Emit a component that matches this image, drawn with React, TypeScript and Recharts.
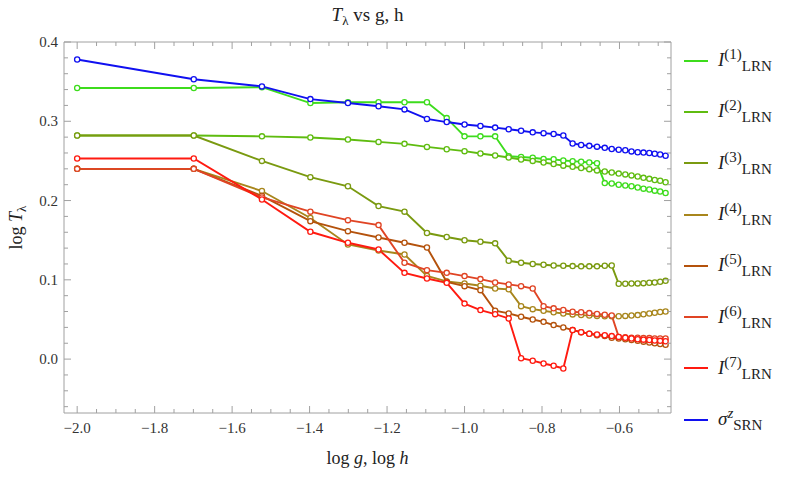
import { LineChart, Line, XAxis, YAxis } from 'recharts';

// log10 of g (= h) sample points
const xs = [-2, -1.699, -1.523, -1.398, -1.301, -1.222, -1.155, -1.097, -1.046, -1, -0.959, -0.921, -0.886, -0.854, -0.824, -0.796, -0.77, -0.745, -0.721, -0.699, -0.678, -0.658, -0.638, -0.62, -0.602, -0.585, -0.569, -0.553, -0.538, -0.523, -0.509, -0.495, -0.481];

const i1 = [0.342, 0.342, 0.343, 0.323, 0.324, 0.324, 0.324, 0.324, 0.304, 0.281, 0.281, 0.281, 0.256, 0.255, 0.254, 0.2525, 0.252, 0.2505, 0.2497, 0.249, 0.248, 0.247, 0.222, 0.2215, 0.22, 0.219, 0.218, 0.2165, 0.215, 0.214, 0.2125, 0.2115, 0.2095];
const i2 = [0.282, 0.282, 0.281, 0.2796, 0.277, 0.274, 0.2715, 0.2677, 0.2648, 0.2623, 0.2594, 0.2569, 0.2543, 0.2518, 0.25, 0.248, 0.246, 0.244, 0.2425, 0.241, 0.2396, 0.238, 0.2367, 0.2354, 0.234, 0.233, 0.2317, 0.2304, 0.2286, 0.2274, 0.226, 0.225, 0.223];
const i3 = [0.282, 0.282, 0.25, 0.2295, 0.218, 0.193, 0.186, 0.159, 0.154, 0.15, 0.148, 0.146, 0.124, 0.1215, 0.12, 0.119, 0.118, 0.1177, 0.1173, 0.117, 0.117, 0.117, 0.1177, 0.118, 0.095, 0.095, 0.0954, 0.0955, 0.0958, 0.0963, 0.0967, 0.0975, 0.0987];
const i4 = [0.24, 0.24, 0.212, 0.178, 0.1446, 0.137, 0.132, 0.105, 0.098, 0.0954, 0.0925, 0.089, 0.088, 0.0668, 0.063, 0.061, 0.059, 0.0576, 0.0564, 0.0555, 0.055, 0.0545, 0.054, 0.054, 0.054, 0.0545, 0.055, 0.0555, 0.0565, 0.0575, 0.0585, 0.0595, 0.06];
const i5 = [0.24, 0.24, 0.206, 0.174, 0.1614, 0.1534, 0.1467, 0.1408, 0.0975, 0.092, 0.087, 0.061, 0.0576, 0.0534, 0.05, 0.047, 0.0429, 0.04, 0.0366, 0.034, 0.032, 0.03, 0.029, 0.027, 0.026, 0.025, 0.024, 0.023, 0.022, 0.021, 0.02, 0.019, 0.018];
const i6 = [0.24, 0.24, 0.204, 0.186, 0.1753, 0.169, 0.1215, 0.1122, 0.1088, 0.1047, 0.1009, 0.0967, 0.0942, 0.092, 0.089, 0.0668, 0.064, 0.062, 0.0598, 0.059, 0.058, 0.057, 0.056, 0.055, 0.028, 0.0275, 0.027, 0.027, 0.0265, 0.0265, 0.026, 0.026, 0.026];
const i7 = [0.253, 0.253, 0.2014, 0.1606, 0.1467, 0.1383, 0.1088, 0.1017, 0.0962, 0.07, 0.0618, 0.0567, 0.0513, 0.001, -0.002, -0.0055, -0.0084, -0.0118, 0.0366, 0.034, 0.032, 0.031, 0.03, 0.029, 0.028, 0.027, 0.026, 0.025, 0.0245, 0.024, 0.0235, 0.023, 0.0225];
const srn = [0.378, 0.353, 0.344, 0.328, 0.323, 0.319, 0.315, 0.303, 0.299, 0.296, 0.294, 0.292, 0.29, 0.288, 0.286, 0.285, 0.284, 0.282, 0.272, 0.27, 0.269, 0.268, 0.2665, 0.265, 0.264, 0.2635, 0.262, 0.261, 0.2605, 0.26, 0.259, 0.258, 0.2565];

const xMajor = [-2.0, -1.8, -1.6, -1.4, -1.2, -1.0, -0.8, -0.6];
const yMajor = [0.0, 0.1, 0.2, 0.3, 0.4];

const series = [
  { key: 'i1', sup: '(1)', sub: 'LRN', color: '#3ddc1c' },
  { key: 'i2', sup: '(2)', sub: 'LRN', color: '#5fbc10' },
  { key: 'i3', sup: '(3)', sub: 'LRN', color: '#7a9a10' },
  { key: 'i4', sup: '(4)', sub: 'LRN', color: '#a8861c' },
  { key: 'i5', sup: '(5)', sub: 'LRN', color: '#b4520c' },
  { key: 'i6', sup: '(6)', sub: 'LRN', color: '#e04424' },
  { key: 'i7', sup: '(7)', sub: 'LRN', color: '#ff1a10' },
  { key: 'srn', sup: 'z', sub: 'SRN', color: '#1010f0' },
];

const data = xs.map((x, i) => ({
  x,
  i1: i1[i], i2: i2[i], i3: i3[i], i4: i4[i], i5: i5[i], i6: i6[i], i7: i7[i], srn: srn[i],
}));

const W = 789;
const H = 478;
const PLOT_TOP = 42;
const PLOT_BOTTOM = 413;
const PLOT_LEFT = 64;
const PLOT_RIGHT = 671;
// axis sizes are folded into these margins so the plot box lands on the frame above
const M = { top: PLOT_TOP - 1, right: W - PLOT_RIGHT - 1, bottom: H - PLOT_BOTTOM - 30, left: PLOT_LEFT - 40 };
const X_DOMAIN = [-2.034, -0.467];
const Y_DOMAIN = [-0.068, 0.4];
const FRAME = '#a0a0a0';
const FONT = '"Liberation Serif", "DejaVu Serif", serif';

// minor ticks every 0.05 on x, every 0.02 on y
const xTicks: number[] = [];
for (let k = -40; k <= -10; k++) xTicks.push(Math.round(k * 5) / 100);
const yTicks: number[] = [];
for (let k = -3; k <= 20; k++) yTicks.push(Math.round(k * 2) / 100);

const isMajor = (v: number, list: number[]) => list.some(m => Math.abs(m - v) < 1e-6);
const fmt = (v: number) => (v < 0 ? '\u2212' : '') + Math.abs(v).toFixed(1);

const BottomTick = ({ x, payload }: any) => {
  const major = isMajor(payload.value, xMajor);
  return (
    <g>
      <line x1={x} x2={x} y1={PLOT_BOTTOM} y2={PLOT_BOTTOM - (major ? 7 : 4)} stroke={FRAME} />
      {major && (
        <text x={x} y={PLOT_BOTTOM + 20} textAnchor="middle" fontFamily={FONT} fontSize={15} fill="#333">
          {fmt(payload.value)}
        </text>
      )}
    </g>
  );
};

const TopTick = ({ x, payload }: any) => {
  const major = isMajor(payload.value, xMajor);
  return <line x1={x} x2={x} y1={PLOT_TOP} y2={PLOT_TOP + (major ? 7 : 4)} stroke={FRAME} />;
};

const LeftTick = ({ y, payload }: any) => {
  const major = isMajor(payload.value, yMajor);
  return (
    <g>
      <line x1={PLOT_LEFT} x2={PLOT_LEFT + (major ? 7 : 4)} y1={y} y2={y} stroke={FRAME} />
      {major && (
        <text x={PLOT_LEFT - 6} y={y + 5} textAnchor="end" fontFamily={FONT} fontSize={15} fill="#333">
          {payload.value.toFixed(1)}
        </text>
      )}
    </g>
  );
};

const RightTick = ({ y, payload }: any) => {
  const major = isMajor(payload.value, yMajor);
  return <line x1={PLOT_RIGHT} x2={PLOT_RIGHT - (major ? 7 : 4)} y1={y} y2={y} stroke={FRAME} />;
};

function LegendBox() {
  return (
    <div style={{ position: 'absolute', left: 684, top: 35, fontFamily: FONT, color: '#222' }}>
      {series.map(s => (
        <div key={s.key} style={{ height: 51.3, display: 'flex', alignItems: 'center' }}>
          <span style={{ display: 'inline-block', width: 24, height: 2, background: s.color, marginRight: 10 }} />
          <span style={{ fontSize: 19, whiteSpace: 'nowrap' }}>
            <i>{s.key === 'srn' ? '\u03c3' : 'I'}</i>
            <sup style={{ fontSize: 15, fontStyle: s.key === 'srn' ? 'italic' : 'normal' }}>{s.sup}</sup>
            <sub style={{ fontSize: 15 }}>{s.sub}</sub>
          </span>
        </div>
      ))}
    </div>
  );
}

export default function App() {
  return (
    <div style={{ position: 'absolute', left: 0, top: 0, width: W, height: H, background: 'white' }}>
      <LineChart width={W} height={H} data={data} margin={M}>
        <XAxis
          dataKey="x"
          type="number"
          domain={X_DOMAIN}
          ticks={xTicks}
          interval={0}
          allowDataOverflow
          height={30}
          axisLine={{ stroke: FRAME }}
          tickLine={false}
          tick={BottomTick}
        />
        <XAxis
          xAxisId="top"
          orientation="top"
          dataKey="x"
          type="number"
          domain={X_DOMAIN}
          ticks={xTicks}
          interval={0}
          allowDataOverflow
          height={1}
          axisLine={{ stroke: FRAME }}
          tickLine={false}
          tick={TopTick}
        />
        <YAxis
          type="number"
          domain={Y_DOMAIN}
          ticks={yTicks}
          interval={0}
          allowDataOverflow
          width={40}
          axisLine={{ stroke: FRAME }}
          tickLine={false}
          tick={LeftTick}
        />
        <YAxis
          yAxisId="right"
          orientation="right"
          type="number"
          domain={Y_DOMAIN}
          ticks={yTicks}
          interval={0}
          allowDataOverflow
          width={1}
          axisLine={{ stroke: FRAME }}
          tickLine={false}
          tick={RightTick}
        />
        {series.map(s => (
          <Line
            key={s.key}
            dataKey={s.key}
            stroke={s.color}
            strokeWidth={1.9}
            dot={{ r: 2.6, fill: '#fff', stroke: s.color, strokeWidth: 1.3 }}
            activeDot={false}
            isAnimationActive={false}
          />
        ))}
      </LineChart>

      <svg width={W} height={H} style={{ position: 'absolute', left: 0, top: 0, pointerEvents: 'none' }}>
        <text x={(PLOT_LEFT + PLOT_RIGHT) / 2} y={21} textAnchor="middle" fontFamily={FONT} fontSize={19} fill="#222">
          <tspan fontStyle="italic">T</tspan>
          <tspan fontSize={13} dy={4}>{'\u03bb'}</tspan>
          <tspan dy={-4}> vs g, h</tspan>
        </text>
        <text
          transform={`translate(22, ${(PLOT_TOP + PLOT_BOTTOM) / 2}) rotate(-90)`}
          textAnchor="middle"
          fontFamily={FONT}
          fontSize={18}
          fill="#222"
        >
          <tspan>log </tspan>
          <tspan fontStyle="italic">T</tspan>
          <tspan fontSize={13} dy={4}>{'\u03bb'}</tspan>
        </text>
        <text x={(PLOT_LEFT + PLOT_RIGHT) / 2} y={464} textAnchor="middle" fontFamily={FONT} fontSize={18} fill="#222">
          <tspan>log </tspan>
          <tspan fontStyle="italic">g</tspan>
          <tspan>, log </tspan>
          <tspan fontStyle="italic">h</tspan>
        </text>
      </svg>

      <LegendBox />
    </div>
  );
}
